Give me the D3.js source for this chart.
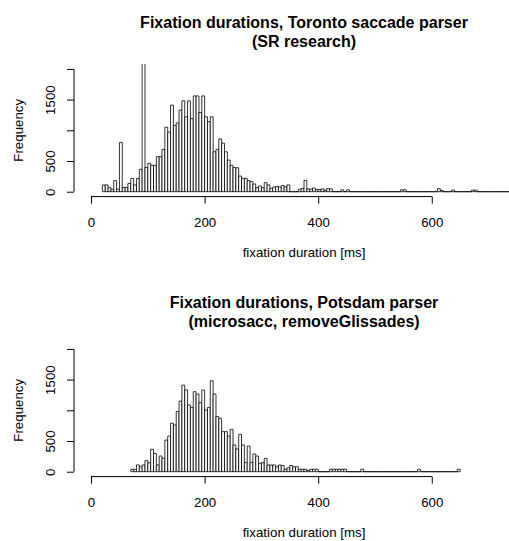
<!DOCTYPE html>
<html>
<head>
<meta charset="utf-8">
<script src="https://cdn.jsdelivr.net/npm/d3@7"></script>
<style>
  body { margin: 0; background: #fff; }
  svg { display: block; font-family: "Liberation Sans", Arial, sans-serif; }
</style>
</head>
<body>
<div id="chart"></div>
<script>
const binWidth = 5;

// Toronto saccade parser (SR research), first bin starts at 20 ms
const torontoStart = 20;
const torontoCounts = [
    110, 110, 65, 40, 180, 40,
    800, 70, 70, 135, 215, 110, 215, 365, 2600, 395,
    460, 430, 430, 570, 570, 690, 1050, 970, 1410, 1080,
    1120, 1330, 1480, 1220, 1480, 1190, 1560, 1560, 1290, 1560,
    1220, 1140, 1220, 650, 690, 860, 790, 650, 515, 430,
    395, 390, 255, 217, 217, 180, 163, 125, 65, 92,
    65, 147, 110, 55, 76, 87, 76, 100, 80, 110,
    0, 0, 0, 40, 55, 185, 45, 40, 60, 35,
    35, 45, 25, 50, 45, 0, 0, 0, 30, 0,
    30, 0, 0, 0, 0, 0, 0, 0, 0, 0,
    0, 0, 0, 0, 0, 0, 0, 0, 0, 30,
    30, 0, 0, 0, 0, 0, 0, 0, 0, 0,
    0, 0, 50, 20, 0, 0, 0, 25, 0, 0,
    0, 0, 0, 0, 25, 25, 0, 0, 0, 0,
    0, 0, 0, 0, 0, 0, 0, 0, 0, 0
];

// Potsdam parser (microsacc, removeGlissades), first bin starts at 70 ms
const potsdamStart = 70;
const potsdamCounts = [
    38, 38, 110, 80, 110, 180,
    145, 365, 300, 110, 255, 220, 515, 580, 790, 760,
    980, 1150, 1410, 1330, 1086, 1048, 1303, 1265, 1124, 1330,
    1005, 1048, 1482, 1265, 896, 869, 652, 652, 580, 690,
    434, 369, 608, 434, 152, 418, 152, 288, 255, 136,
    147, 217, 109, 109, 109, 81, 109, 100, 40, 65,
    100, 80, 80, 40, 40, 40, 20, 40, 40, 40,
    0, 0, 0, 0, 40, 40, 40, 40, 40, 40,
    0, 0, 0, 0, 0, 40, 0, 0, 0, 0,
    0, 0, 0, 0, 0, 0, 0, 0, 0, 0,
    0, 0, 0, 0, 0, 40, 0, 0, 0, 0,
    0, 0, 0, 0, 0, 0, 0, 0, 0, 40
];

const xTicks = [0, 200, 400, 600];
const yTicks = [0, 500, 1000, 1500, 2000];
const yLabelled = [0, 500, 1500]; // R drops the labels that would overlap

const panels = [
    { title: ["Fixation durations, Toronto saccade parser", "(SR research)"], start: torontoStart, counts: torontoCounts },
    { title: ["Fixation durations, Potsdam parser", "(microsacc, removeGlissades)"], start: potsdamStart, counts: potsdamCounts }
];

const width = 509, height = 541;
const panelHeight = 280;

const svg = d3.select("#chart").append("svg")
    .attr("width", width)
    .attr("height", height);

svg.append("rect").attr("width", width).attr("height", height).attr("fill", "#fff");

// same plot region for both panels (xlim 0..750, ylim 0..2000 with R's 4% padding)
const x = d3.scaleLinear().domain([-30, 780]).range([74, 534]);
const y = d3.scaleLinear().domain([-80, 2080]).range([196.6, 64]);

svg.append("clipPath").attr("id", "plotclip")
    .append("rect")
    .attr("x", x.range()[0]).attr("y", y.range()[1])
    .attr("width", x.range()[1] - x.range()[0])
    .attr("height", y.range()[0] - y.range()[1]);

panels.forEach((p, i) => {
    const g = svg.append("g").attr("transform", `translate(0,${i * panelHeight})`);

    // bars as closed paths, so empty bins still show as a line on the baseline
    const bins = p.counts.map((c, k) => ({ x0: p.start + k * binWidth, x1: p.start + (k + 1) * binWidth, n: c }));
    g.append("g")
        .attr("clip-path", "url(#plotclip)")
        .selectAll("path")
        .data(bins)
        .enter().append("path")
        .attr("d", d => `M${x(d.x0)},${y(0)}V${y(d.n)}H${x(d.x1)}V${y(0)}Z`)
        .attr("fill", "#fff")
        .attr("stroke", "#000")
        .attr("stroke-width", 0.8);

    // x axis
    const xa = g.append("g")
        .attr("transform", `translate(0,${y.range()[0]})`)
        .call(d3.axisBottom(x).tickValues(xTicks).tickSize(7).tickFormat(d3.format("d")));
    xa.select(".domain").remove();
    xa.append("line")
        .attr("x1", x(xTicks[0])).attr("x2", x(xTicks[xTicks.length - 1]))
        .attr("stroke", "#000");
    xa.selectAll(".tick text")
        .attr("y", 30.2).attr("dy", 0)
        .attr("font-size", 13.3).attr("font-family", "Liberation Sans, Arial, sans-serif")
        .attr("fill", "#000");

    // y axis
    const ya = g.append("g")
        .attr("transform", `translate(${x.range()[0]},0)`)
        .call(d3.axisLeft(y).tickValues(yTicks).tickSize(7)
            .tickFormat(d => yLabelled.includes(d) ? d : ""));
    ya.select(".domain").remove();
    ya.append("line")
        .attr("y1", y(yTicks[0])).attr("y2", y(yTicks[yTicks.length - 1]))
        .attr("stroke", "#000");
    ya.selectAll(".tick text")
        .attr("x", 0).attr("y", -19.2).attr("dy", 0)
        .attr("transform", "rotate(-90)")
        .attr("text-anchor", "middle")
        .attr("font-size", 13.3).attr("font-family", "Liberation Sans, Arial, sans-serif")
        .attr("fill", "#000");

    // labels
    const cx = (x.range()[0] + x.range()[1]) / 2;
    g.append("text")
        .attr("x", cx).attr("y", 257)
        .attr("text-anchor", "middle")
        .attr("font-size", 13.3)
        .text("fixation duration [ms]");

    g.append("text")
        .attr("transform", `translate(23,${(y.range()[0] + y.range()[1]) / 2}) rotate(-90)`)
        .attr("text-anchor", "middle")
        .attr("font-size", 13.3)
        .text("Frequency");

    g.selectAll(".title")
        .data(p.title).enter().append("text")
        .attr("class", "title")
        .attr("x", cx).attr("y", (d, j) => 28 + j * 19)
        .attr("text-anchor", "middle")
        .attr("font-size", 16)
        .attr("font-weight", "bold")
        .text(d => d);
});
</script>
</body>
</html>
